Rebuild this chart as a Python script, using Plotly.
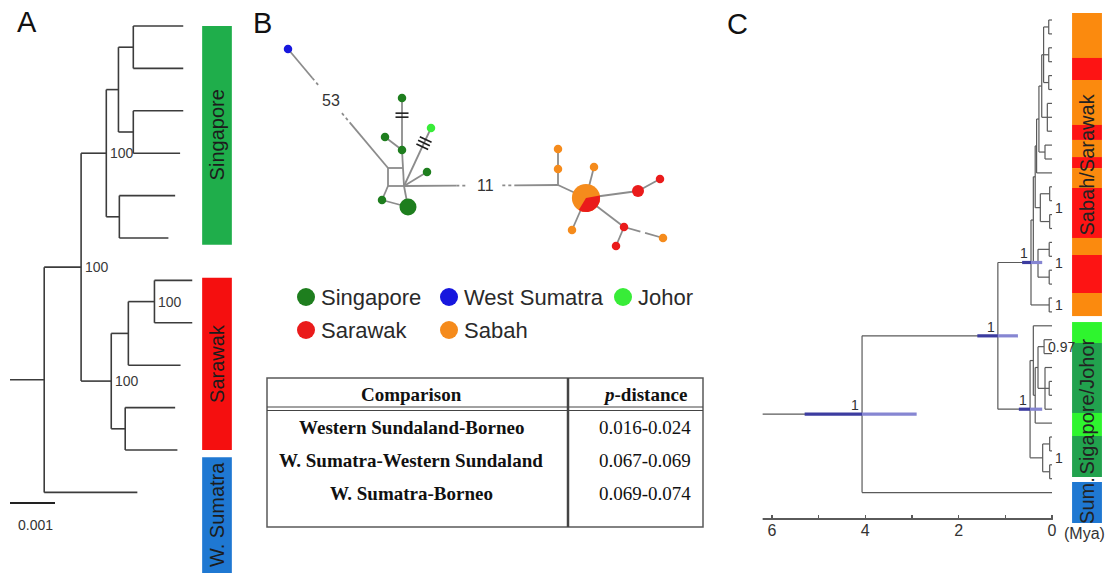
import math
import plotly.graph_objects as go

W, H = 1106, 575
FONT = "Arial, Liberation Sans, sans-serif"
SERIF = "Times New Roman, Liberation Serif, serif"

# ---------------- Panel A : ML tree (branch lengths, subst./site) ----------------
A_tree = ("root", 0.00076, "", [
    ("n_all", 0.00082, "100", [
        ("n_sing", 0.00056, "100", [
            ("n_s1", 0.00027, "", [
                ("n_s1a", 0.00033, "", [("SG1", 0.00111), ("SG2", 0.00111)]),
                ("n_s1b", 0.00033, "", [("SG3", 0.00111), ("SG4", 0.00104)]),
            ]),
            ("n_s2", 0.00029, "", [("SG5", 0.00124), ("SG6", 0.00109)]),
        ]),
        ("n_sar", 0.00067, "100", [
            ("n_r1", 0.00038, "", [
                ("n_r1a", 0.00058, "100", [("SW1", 0.00084), ("SW2", 0.00084)]),
                ("SW3", 0.00116),
            ]),
            ("n_r2", 0.00031, "", [("SW4", 0.00111), ("SW5", 0.00116)]),
        ]),
    ]),
    ("WS1", 0.00207),
])
A_groups = ["Singapore", "Sarawak", "W. Sumatra"]
A_group_colors = ["#1fae4b", "#f50f0f", "#1f78d2"]
A_group_from = [0.0, 5.94, 10.17]     # tip slots
A_group_to = [5.16, 10.0, 12.9]
A_scale_len = 0.001
A_scale_label = "0.001"

# ---------------- Panel B : haplotype network ----------------
B_node_names = ["WS", "V1", "V2", "V3", "V4", "G1", "G2", "G3", "J1", "G4", "G5", "G6",
                "V5", "O1", "O2", "P", "O3", "R1", "R2", "O4", "R3", "R4", "O5"]
B_node_x = [38, 138, 153, 138, 154, 152, 152, 135, 181, 177, 132, 158,
            308, 308, 308, 336, 344, 388, 410, 322, 374, 366, 413]
B_node_y = [49, 168, 168, 186, 186, 98, 150, 137, 128, 172, 200, 207,
            185, 169, 149, 198, 167, 191, 179, 230, 227, 246, 238]
B_node_pop = ["West Sumatra", "", "", "", "", "Singapore", "Singapore", "Singapore", "Johor",
              "Singapore", "Singapore", "Singapore", "", "Sabah", "Sabah", "Sabah", "Sabah",
              "Sarawak", "Sarawak", "Sabah", "Sarawak", "Sarawak", "Sabah"]
B_node_freq = [1, 0, 0, 0, 0, 1, 1, 1, 1, 1, 1, 4, 0, 1, 1, 11, 1, 2, 1, 1, 1, 1, 1]
B_pie_node = "P"
B_pie_sarawak = 4          # of 11 haplotypes in the shared node
B_edges = [
    ("WS", "V1", "break", "53", 0.43),
    ("V1", "V2", "solid", "", 0), ("V1", "V3", "solid", "", 0),
    ("V3", "V4", "solid", "", 0), ("V2", "V4", "solid", "", 0),
    ("G2", "V2", "solid", "", 0), ("G1", "G2", "hash2", "", 0.33),
    ("G3", "G2", "solid", "", 0), ("V4", "J1", "hash3", "", 0.74),
    ("V4", "G4", "solid", "", 0), ("V4", "G6", "solid", "", 0),
    ("V3", "G5", "solid", "", 0), ("G5", "G6", "solid", "", 0),
    ("V4", "V5", "break", "11", 0.528),
    ("V5", "O1", "solid", "", 0), ("O1", "O2", "solid", "", 0),
    ("V5", "P", "solid", "", 0), ("P", "O3", "solid", "", 0),
    ("P", "R1", "solid", "", 0), ("R1", "R2", "solid", "", 0),
    ("P", "O4", "solid", "", 0), ("P", "R3", "solid", "", 0),
    ("R3", "R4", "solid", "", 0), ("R3", "O5", "gap", "", 0.48),
]
POP_COLORS = {"Singapore": "#1e7e1e", "West Sumatra": "#1717de", "Johor": "#38ec38",
              "Sarawak": "#ea1b1b", "Sabah": "#f58b1c"}
LEG_labels = ["Singapore", "West Sumatra", "Johor", "Sarawak", "Sabah"]
LEG_col = [0, 1, 2, 0, 1]
LEG_row = [0, 0, 0, 1, 1]

T_header = ["<b>Comparison</b>", "<b><i>p</i>-distance</b>"]
T_comparisons = ["Western Sundaland-Borneo", "W. Sumatra-Western Sundaland", "W. Sumatra-Borneo"]
T_pdist = ["0.016-0.024", "0.067-0.069", "0.069-0.074"]

# ---------------- Panel C : time tree (ages in Mya) ----------------
C_tree = ("root", 4.07, "1", (5.3, 2.9), [
    ("n2", 1.16, "1", (1.6, 0.73), [
        ("borneo", 0.45, "1", (0.64, 0.21), [
            ("b_up", 0.40, "", None, [
                ("b_mid", 0.36, "", None, [
                    ("b_upper", 0.33, "", None, [
                        ("b_up2", 0.28, "", None, [
                            ("b_up3", 0.22, "", None, [
                                ("b_up4", 0.18, "", None, [
                                    ("c1", 0.07, "", None, ["B01", "B02"]),
                                    ("c2", 0.07, "", None, ["B03", "B04"]),
                                    ("c3", 0.07, "", None, ["B05", "B06"]),
                                ]),
                                ("c4", 0.10, "", None, ["B07", "B08", "B09"]),
                            ]),
                            ("c5", 0.15, "", None, ["B10", "B11"]),
                        ]),
                        "B12",
                    ]),
                    ("g200", 0.25, "1", None, [
                        ("c6", 0.05, "", None, ["B13", "B14"]),
                        ("c7", 0.05, "", None, ["B15", "B16"]),
                    ]),
                ]),
                ("g248", 0.30, "1", None, [
                    ("c8", 0.06, "", None, ["B17", "B18"]),
                    ("c9", 0.06, "", None, ["B19", "B20"]),
                ]),
            ]),
            ("b_low", 0.06, "1", None, ["B21", "B22"]),
        ]),
        ("sj", 0.47, "1", (0.71, 0.21), [
            ("s1", 0.40, "", None, [
                "S01",
                ("s1b", 0.36, "", None, [
                    ("s3", 0.30, "", None, [
                        ("s3a", 0.17, "0.97", None, ["S02", "S03"]),
                        ("s4", 0.15, "", None, ["S04", ("s4a", 0.06, "", None, ["S05", "S06"]), "S07"]),
                    ]),
                    "S08",
                ]),
            ]),
            ("s2", 0.20, "1", None, [
                ("s2a", 0.05, "", None, ["S09", "S10"]),
                ("s2b", 0.05, "", None, ["S11", "S12"]),
            ]),
        ]),
    ]),
    "WS01",
])
C_root_stem_from = 6.2
C_strip_regions = ["Sabah", "Sarawak", "Sabah", "Sarawak", "Sabah", "Sarawak", "Sabah", "Sarawak",
                   "Sabah", "Sarawak", "Sabah", "Johor", "Singapore", "Johor", "Singapore", "W. Sumatra"]
C_strip_from = [-0.5, 2.73, 4.32, 7.55, 8.63, 9.86, 10.65, 12.09, 15.68, 16.91, 19.64,
                21.73, 23.24, 28.27, 29.93, 33.24]
C_strip_to = [2.73, 4.32, 7.55, 8.63, 9.86, 10.65, 12.09, 15.68, 16.91, 19.64, 21.3,
              23.24, 28.27, 29.93, 32.88, 36.19]
C_strip_colors = {"Sabah": "#fb8a0e", "Sarawak": "#fd1414", "Johor": "#2ef52e",
                  "Singapore": "#22a24e", "W. Sumatra": "#1f78d2"}
C_labels = ["Sabah/Sarawak", "Sigapore/Johor", "Sum."]
C_label_pos = [10.4, 27.8, 34.6]
C_tick_vals = [0, 1, 2, 3, 4, 5, 6]
C_tick_text = ["0", "", "2", "", "4", "", "6"]


def fx(px):
    return px / W


def fy(py):
    return 1 - py / H


def seg_xy(segs):
    xs, ys = [], []
    for (x0, y0), (x1, y1) in segs:
        xs += [x0, x1, None]
        ys += [y0, y1, None]
    return xs, ys


# ---- layout of tree A ----
def layout_phylo(node, x0, counter, segs, labels):
    if len(node) == 2:
        name, bl = node
        x = x0 + bl
        y = counter[0]
        counter[0] += 1
        segs.append(((x0, y), (x, y)))
        return y
    name, bl, sup, kids = node
    x = x0 + bl
    ys = [layout_phylo(k, x, counter, segs, labels) for k in kids]
    y = (ys[0] + ys[-1]) / 2
    segs.append(((x0, y), (x, y)))
    segs.append(((x, ys[0]), (x, ys[-1])))
    if sup:
        labels.append((x, y, sup))
    return y


A_segs, A_labels = [], []
layout_phylo(A_tree, 0.0, [0], A_segs, A_labels)


# ---- layout of tree C ----
def layout_chrono(node, parent_age, counter, segs, labels, hpds):
    if isinstance(node, str):
        y = counter[0]
        counter[0] += 1
        segs.append(((parent_age, y), (0.0, y)))
        return y
    name, age, sup, hpd, kids = node
    ys = [layout_chrono(k, age, counter, segs, labels, hpds) for k in kids]
    y = (ys[0] + ys[-1]) / 2
    segs.append(((parent_age, y), (age, y)))
    segs.append(((age, ys[0]), (age, ys[-1])))
    if sup:
        labels.append((age, y, sup, hpd is not None))
    if hpd is not None:
        hpds.append((age, y, hpd))
    return y


C_segs, C_labels_sup, C_hpds = [], [], []
layout_chrono(C_tree, C_root_stem_from, [0], C_segs, C_labels_sup, C_hpds)

fig = go.Figure()
annotations = []
shapes = []


def ptext(px_, py_, text, size, family=FONT, color="#111", xanchor="center"):
    annotations.append(dict(x=fx(px_), y=fy(py_), xref="paper", yref="paper", text=text,
                            showarrow=False, xanchor=xanchor, yanchor="middle",
                            font=dict(family=family, size=size, color=color)))


# ================= Panel A =================
xs, ys = seg_xy(A_segs)
fig.add_trace(go.Scatter(x=xs, y=ys, mode="lines", line=dict(color="#3c3c3c", width=1.6),
                         xaxis="x", yaxis="y", hoverinfo="skip", showlegend=False))
for (x, y, s) in A_labels:
    annotations.append(dict(x=x, y=y, xref="x", yref="y", text=s, showarrow=False,
                            xanchor="left", yanchor="middle", xshift=2,
                            font=dict(family=FONT, size=14, color="#3a3a3a")))
A_bar_x0, A_bar_x1 = 0.00427, 0.00493
for g, c, a, b in zip(A_groups, A_group_colors, A_group_from, A_group_to):
    shapes.append(dict(type="rect", xref="x", yref="y", x0=A_bar_x0, x1=A_bar_x1, y0=a, y1=b,
                       fillcolor=c, line=dict(width=0), layer="below"))
    annotations.append(dict(x=(A_bar_x0 + A_bar_x1) / 2, y=(a + b) / 2, xref="x", yref="y",
                            text=g, textangle=-90, showarrow=False,
                            xanchor="center", yanchor="middle",
                            font=dict(family=FONT, size=20, color="#1c1c1c")))
# scale bar
scale_y = 11.25
fig.add_trace(go.Scatter(x=[0, A_scale_len], y=[scale_y, scale_y], mode="lines",
                         line=dict(color="#222", width=2), xaxis="x", yaxis="y",
                         hoverinfo="skip", showlegend=False))
annotations.append(dict(x=A_scale_len / 2 + 0.00007, y=scale_y + 0.52, xref="x", yref="y",
                        text=A_scale_label, showarrow=False, xanchor="center", yanchor="middle",
                        font=dict(family=FONT, size=14, color="#333")))

# ================= Panel B =================
idx = {n: i for i, n in enumerate(B_node_names)}


def pt(n):
    i = idx[n]
    return (B_node_x[i], B_node_y[i])


def lerp(a, b, t):
    return (a[0] + (b[0] - a[0]) * t, a[1] + (b[1] - a[1]) * t)


solid, dashed, hashes, edge_labels = [], [], [], []
for a, b, kind, lab, t in B_edges:
    pa, pb = pt(a), pt(b)
    L = math.hypot(pb[0] - pa[0], pb[1] - pa[1])
    if kind == "break":
        gap, dsh = 17 / L, 12 / L
        solid.append((pa, lerp(pa, pb, t - gap - dsh)))
        dashed.append((lerp(pa, pb, t - gap - dsh), lerp(pa, pb, t - gap)))
        dashed.append((lerp(pa, pb, t + gap), lerp(pa, pb, t + gap + dsh)))
        solid.append((lerp(pa, pb, t + gap + dsh), pb))
        edge_labels.append((lerp(pa, pb, t), lab))
    elif kind == "gap":
        solid.append((pa, lerp(pa, pb, t - 0.06)))
        solid.append((lerp(pa, pb, t + 0.06), pb))
    else:
        solid.append((pa, pb))
        if kind.startswith("hash"):
            n = int(kind[-1])
            c = lerp(pa, pb, t)
            d = ((pb[0] - pa[0]) / L, (pb[1] - pa[1]) / L)
            p = (-d[1], d[0])
            sp, ln = 4.0, 13.0
            for k in range(n):
                o = (k - (n - 1) / 2) * sp
                cc = (c[0] + d[0] * o, c[1] + d[1] * o)
                hashes.append(((cc[0] - p[0] * ln / 2, cc[1] - p[1] * ln / 2),
                               (cc[0] + p[0] * ln / 2, cc[1] + p[1] * ln / 2)))

xs, ys = seg_xy(solid)
fig.add_trace(go.Scatter(x=xs, y=ys, mode="lines", line=dict(color="#8c8c8c", width=1.8),
                         xaxis="x2", yaxis="y2", hoverinfo="skip", showlegend=False))
xs, ys = seg_xy(dashed)
fig.add_trace(go.Scatter(x=xs, y=ys, mode="lines",
                         line=dict(color="#8c8c8c", width=1.8, dash="3px,3px"),
                         xaxis="x2", yaxis="y2", hoverinfo="skip", showlegend=False))
xs, ys = seg_xy(hashes)
fig.add_trace(go.Scatter(x=xs, y=ys, mode="lines", line=dict(color="#1e1e1e", width=1.6),
                         xaxis="x2", yaxis="y2", hoverinfo="skip", showlegend=False))
for (p, lab) in edge_labels:
    annotations.append(dict(x=p[0], y=p[1], xref="x2", yref="y2", text=lab, showarrow=False,
                            xanchor="center", yanchor="middle",
                            font=dict(family=FONT, size=16, color="#333")))

nx, ny, ns, nc = [], [], [], []
for n, x, y, pop, f in zip(B_node_names, B_node_x, B_node_y, B_node_pop, B_node_freq):
    if f <= 0:
        continue
    nx.append(x)
    ny.append(y)
    ns.append(8.5 * math.sqrt(f))
    nc.append(POP_COLORS[pop])
fig.add_trace(go.Scatter(x=nx, y=ny, mode="markers",
                         marker=dict(size=ns, color=nc, opacity=1, line=dict(width=0)),
                         xaxis="x2", yaxis="y2", hoverinfo="skip", showlegend=False))
# pie wedge (Sarawak share of shared haplotype)
pi_ = idx[B_pie_node]
cx, cy = B_node_x[pi_], B_node_y[pi_]
r = 8.5 * math.sqrt(B_node_freq[pi_]) / 2
frac = B_pie_sarawak / B_node_freq[pi_]
a0 = 10.0
angs = [a0 - 360 * frac * k / 40 for k in range(41)]
wx = [cx] + [cx + r * math.cos(math.radians(a)) for a in angs] + [cx]
wy = [cy] + [cy - r * math.sin(math.radians(a)) for a in angs] + [cy]
fig.add_trace(go.Scatter(x=wx, y=wy, mode="lines", fill="toself", fillcolor=POP_COLORS["Sarawak"],
                         line=dict(width=0, color=POP_COLORS["Sarawak"]),
                         xaxis="x2", yaxis="y2", hoverinfo="skip", showlegend=False))

# legend (manual key)
leg_col_x = [56, 199, 373]
leg_row_y = [297, 330]
lx = [leg_col_x[c] for c in LEG_col]
ly = [leg_row_y[r_] for r_ in LEG_row]
fig.add_trace(go.Scatter(x=lx, y=ly, mode="markers",
                         marker=dict(size=18, opacity=1, color=[POP_COLORS[l] for l in LEG_labels]),
                         xaxis="x2", yaxis="y2", hoverinfo="skip", showlegend=False))
for l, x, y in zip(LEG_labels, lx, ly):
    annotations.append(dict(x=x, y=y, xref="x2", yref="y2", text=l, showarrow=False,
                            xanchor="left", yanchor="middle", xshift=13,
                            font=dict(family=FONT, size=22, color="#2a2a2a")))

# table
tl, tr, tt, tb, tdiv = 267, 703, 378, 527, 568
shapes.append(dict(type="rect", xref="paper", yref="paper", x0=fx(tl), x1=fx(tr), y0=fy(tt), y1=fy(tb),
                   line=dict(color="#5a5a5a", width=1.5)))
shapes.append(dict(type="line", xref="paper", yref="paper", x0=fx(tdiv), x1=fx(tdiv), y0=fy(tt), y1=fy(tb),
                   line=dict(color="#444", width=2.5)))
for hy in (407, 410.5):
    shapes.append(dict(type="line", xref="paper", yref="paper", x0=fx(tl), x1=fx(tr), y0=fy(hy), y1=fy(hy),
                       line=dict(color="#444", width=1)))
col_c = [411, 645]
ptext(col_c[0], 394, T_header[0], 19, SERIF)
ptext(col_c[1], 394, T_header[1], 19, SERIF)
for i, (cmp_, pd_) in enumerate(zip(T_comparisons, T_pdist)):
    yy = 427 + 33 * i
    ptext(col_c[0], yy, "<b>" + cmp_ + "</b>", 19, SERIF)
    ptext(col_c[1], yy, pd_, 19, SERIF)

# ================= Panel C =================
xs, ys = seg_xy(C_segs)
fig.add_trace(go.Scatter(x=xs, y=ys, mode="lines", line=dict(color="#5a5a5a", width=1.2),
                         xaxis="x3", yaxis="y3", hoverinfo="skip", showlegend=False))
hd, hl = [], []
for age, y, (hi, lo) in C_hpds:
    hd.append(((hi, y), (age, y)))
    hl.append(((age, y), (lo, y)))
xs, ys = seg_xy(hd)
fig.add_trace(go.Scatter(x=xs, y=ys, mode="lines", line=dict(color="#3c3ca0", width=3.2),
                         xaxis="x3", yaxis="y3", hoverinfo="skip", showlegend=False))
xs, ys = seg_xy(hl)
fig.add_trace(go.Scatter(x=xs, y=ys, mode="lines", line=dict(color="#8686d2", width=3.2),
                         xaxis="x3", yaxis="y3", hoverinfo="skip", showlegend=False))
for age, y, s, deep in C_labels_sup:
    if deep:
        annotations.append(dict(x=age, y=y, xref="x3", yref="y3", text=s, showarrow=False,
                                xanchor="right", yanchor="bottom", xshift=-1, yshift=-1,
                                font=dict(family=FONT, size=14, color="#333")))
    else:
        annotations.append(dict(x=0 if s == "1" else age, y=y, xref="x3", yref="y3", text=s,
                                showarrow=False, xanchor="left", yanchor="middle",
                                xshift=1 if s == "1" else 2,
                                font=dict(family=FONT, size=14, color="#333")))
C_strip_x0, C_strip_x1 = -0.43, -1.07
for reg, a, b in zip(C_strip_regions, C_strip_from, C_strip_to):
    shapes.append(dict(type="rect", xref="x3", yref="y3", x0=C_strip_x0, x1=C_strip_x1, y0=a, y1=b,
                       fillcolor=C_strip_colors[reg], line=dict(width=0), layer="below"))
for lab, pos in zip(C_labels, C_label_pos):
    annotations.append(dict(x=(C_strip_x0 + C_strip_x1) / 2, y=pos, xref="x3", yref="y3", text=lab,
                            textangle=-90, showarrow=False, xanchor="center", yanchor="middle",
                            font=dict(family=FONT, size=20, color="#222")))
C_axis_pos = 1 - 519 / H
shapes.append(dict(type="line", xref="x3", yref="paper", x0=C_root_stem_from, x1=-0.02,
                   y0=C_axis_pos, y1=C_axis_pos, line=dict(color="#5a5a5a", width=2)))
ptext(1062, 533, "(Mya)", 16, FONT, "#333", xanchor="left")

# panel letters
for letter, px_, py_ in (("A", 27, 22), ("B", 262, 23), ("C", 737, 24)):
    ptext(px_, py_, letter, 29, FONT, "#111")

fig.update_layout(
    width=W, height=H, autosize=False,
    margin=dict(l=0, r=0, t=0, b=0, pad=0),
    paper_bgcolor="white", plot_bgcolor="white",
    showlegend=False,
    xaxis=dict(domain=[0, 250 / W], range=[-10 / 45000, 240 / 45000], visible=False, anchor="y"),
    yaxis=dict(domain=[0, 1], range=[(575 - 26) / 42.4, -26 / 42.4], visible=False, anchor="x"),
    xaxis2=dict(domain=[250 / W, 740 / W], range=[0, 490], visible=False, anchor="y2"),
    yaxis2=dict(domain=[0, 1], range=[575, 0], visible=False, anchor="x2"),
    xaxis3=dict(domain=[740 / W, 1], range=[(1052 - 740) / 46.67, (1052 - 1106) / 46.67],
                anchor="free", position=C_axis_pos, showgrid=False, zeroline=False, showline=False,
                tickmode="array", tickvals=C_tick_vals, ticktext=C_tick_text,
                ticks="inside", ticklen=4, tickwidth=1.2, tickcolor="#5a5a5a",
                tickfont=dict(family=FONT, size=16, color="#333")),
    yaxis3=dict(domain=[0, 1], range=[(575 - 20) / 13.9, -20 / 13.9], visible=False, anchor="x3"),
    annotations=annotations,
    shapes=shapes,
)

fig.write_html("out.html", config={"displayModeBar": False, "staticPlot": True},
               post_script="document.body.style.margin='0';document.body.style.overflow='hidden';")
